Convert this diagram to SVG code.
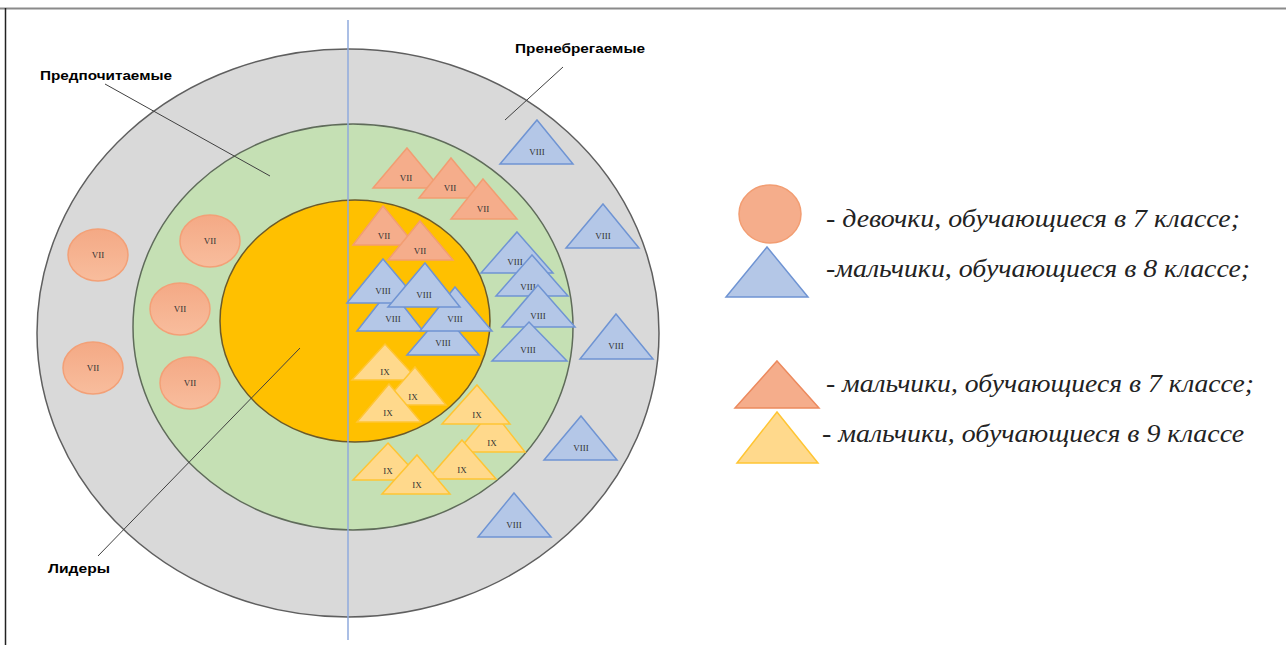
<svg xmlns="http://www.w3.org/2000/svg" width="1286" height="645" viewBox="0 0 1286 645">
<defs>
<style>
.lbl{font-family:"Liberation Sans",Arial,sans-serif;font-weight:bold;font-size:13px;fill:#000}
.rn{font-family:"Liberation Serif","Times New Roman",serif;font-size:9px;fill:#333;text-anchor:middle}
.leg{font-family:"Liberation Serif","Times New Roman",serif;font-style:italic;font-size:25px;fill:#222}
.sal{fill:#f5ad8b;stroke:#f29d72;stroke-width:1.5}
.blu{fill:#b4c7e7;stroke:#6f94d3;stroke-width:1.5}
.yel{fill:#ffd98c;stroke:#ffc533;stroke-width:1.5}
.ell{fill:url(#eg);stroke:#f3a077;stroke-width:1.5}
.ptr{stroke:#404040;stroke-width:1;fill:none}
</style>
<linearGradient id="eg" x1="0" y1="0" x2="0" y2="1">
<stop offset="0" stop-color="#f4a985"/>
<stop offset="1" stop-color="#f8bd9d"/>
</linearGradient>
</defs>
<rect x="0" y="0" width="1286" height="645" fill="#fff"/>
<line x1="0" y1="8.5" x2="1286" y2="8.5" stroke="#8a8a8a" stroke-width="2"/>
<line x1="5.5" y1="8" x2="5.5" y2="645" stroke="#222" stroke-width="1.5"/>

<g id="ring-outer"><ellipse cx="348" cy="333" rx="311" ry="284" fill="#d9d9d9" stroke="#5f5f5f" stroke-width="1.5"/></g>
<g id="ring-green"><ellipse cx="353" cy="327" rx="220" ry="203" fill="#c5e0b4" stroke="#5f6b5a" stroke-width="1.5"/></g>
<g id="ring-core"><ellipse cx="355" cy="321" rx="135" ry="121" fill="#ffc000" stroke="#6b5a2a" stroke-width="1.5"/></g>

<g id="axis"><line x1="348" y1="20" x2="348" y2="640" stroke="#8faadc" stroke-width="1.5"/></g>

<g id="girls">
<ellipse class="ell" cx="98" cy="255" rx="30" ry="26"/><text class="rn" x="98" y="258">VII</text>
<ellipse class="ell" cx="210" cy="241" rx="30" ry="26"/><text class="rn" x="210" y="244">VII</text>
<ellipse class="ell" cx="180" cy="309" rx="30" ry="26"/><text class="rn" x="180" y="312">VII</text>
<ellipse class="ell" cx="93" cy="368" rx="30" ry="26"/><text class="rn" x="93" y="371">VII</text>
<ellipse class="ell" cx="190" cy="383" rx="30" ry="26"/><text class="rn" x="190" y="386">VII</text>
</g>

<g id="boys7">
<polygon class="sal" points="407,148 440,188 373,188"/><text class="rn" x="406" y="181">VII</text>
<polygon class="sal" points="451,158 484,198 419,198"/><text class="rn" x="450" y="191">VII</text>
<polygon class="sal" points="483,179 517,219 451,219"/><text class="rn" x="483" y="212">VII</text>
<polygon class="sal" points="383,206 415,245 353,245"/><text class="rn" x="384" y="239">VII</text>
<polygon class="sal" points="420,221 453,260 388,260"/><text class="rn" x="420" y="254">VII</text>
</g>

<g id="boys8">
<polygon class="blu" points="443,313 479,355 407,355"/><text class="rn" x="443" y="346">VIII</text>
<polygon class="blu" points="390,289 423,331 357,331"/><text class="rn" x="393" y="322">VIII</text>
<polygon class="blu" points="455,287 492,331 420,331"/><text class="rn" x="455" y="322">VIII</text>
<polygon class="blu" points="383,259 420,303 347,303"/><text class="rn" x="383" y="294">VIII</text>
<polygon class="blu" points="425,263 460,307 388,307"/><text class="rn" x="424" y="298">VIII</text>
<polygon class="blu" points="517,232 553,273 481,273"/><text class="rn" x="515" y="265">VIII</text>
<polygon class="blu" points="532,255 568,296 496,296"/><text class="rn" x="528" y="290">VIII</text>
<polygon class="blu" points="538,285 575,327 502,327"/><text class="rn" x="538" y="319">VIII</text>
<polygon class="blu" points="529,322 567,361 492,361"/><text class="rn" x="528" y="353">VIII</text>
<polygon class="blu" points="537,120 573,164 500,164"/><text class="rn" x="537" y="155">VIII</text>
<polygon class="blu" points="603,204 639,248 566,248"/><text class="rn" x="603" y="239">VIII</text>
<polygon class="blu" points="616,314 653,359 580,359"/><text class="rn" x="616" y="349">VIII</text>
<polygon class="blu" points="581,416 617,460 544,460"/><text class="rn" x="581" y="451">VIII</text>
<polygon class="blu" points="514,493 551,537 478,537"/><text class="rn" x="514" y="528">VIII</text>
</g>

<g id="boys9">
<polygon class="yel" points="385,344 418,380 352,380"/><text class="rn" x="385" y="375">IX</text>
<polygon class="yel" points="415,367 446,405 382,405"/><text class="rn" x="413" y="400">IX</text>
<polygon class="yel" points="389,384 421,422 357,422"/><text class="rn" x="388" y="416">IX</text>
<polygon class="yel" points="492,410 525,452 457,452"/><text class="rn" x="492" y="446">IX</text>
<polygon class="yel" points="477,385 510,424 442,424"/><text class="rn" x="477" y="418">IX</text>
<polygon class="yel" points="462,440 496,479 428,479"/><text class="rn" x="462" y="473">IX</text>
<polygon class="yel" points="388,443 422,480 353,480"/><text class="rn" x="388" y="474">IX</text>
<polygon class="yel" points="417,455 450,494 382,494"/><text class="rn" x="417" y="488">IX</text>
</g>

<g id="connectors">
<line class="ptr" x1="105" y1="84" x2="270" y2="176"/>
<line class="ptr" x1="563" y1="67" x2="505" y2="120"/>
<line class="ptr" x1="98" y1="556" x2="300" y2="348"/>
</g>

<g id="label-pred"><text class="lbl" x="40" y="80" textLength="132" lengthAdjust="spacingAndGlyphs">Предпочитаемые</text></g>
<g id="label-pren"><text class="lbl" x="515" y="53" textLength="130" lengthAdjust="spacingAndGlyphs">Пренебрегаемые</text></g>
<g id="label-lid"><text class="lbl" x="48" y="573" textLength="62" lengthAdjust="spacingAndGlyphs">Лидеры</text></g>

<g id="legend-girls7">
<ellipse class="sal" cx="770" cy="214" rx="31" ry="29" stroke-width="2"/>
<text class="leg" x="826" y="227" textLength="414" lengthAdjust="spacingAndGlyphs">- девочки, обучающиеся в 7 классе;</text>
</g>
<g id="legend-boys8">
<polygon class="blu" points="767,247 808,297 726,297" stroke-width="2"/>
<text class="leg" x="826" y="277" textLength="424" lengthAdjust="spacingAndGlyphs">-мальчики, обучающиеся в 8 классе;</text>
</g>
<g id="legend-boys7">
<polygon class="sal" points="777,361 819,408 735,408" stroke-width="2" style="stroke:#ec8a5e"/>
<text class="leg" x="826" y="392" textLength="428" lengthAdjust="spacingAndGlyphs">- мальчики, обучающиеся в 7 классе;</text>
</g>
<g id="legend-boys9">
<polygon class="yel" points="777,412 818,463 737,463" stroke-width="2"/>
<text class="leg" x="822" y="442" textLength="422" lengthAdjust="spacingAndGlyphs">- мальчики, обучающиеся в 9 классе</text>
</g>
</svg>
